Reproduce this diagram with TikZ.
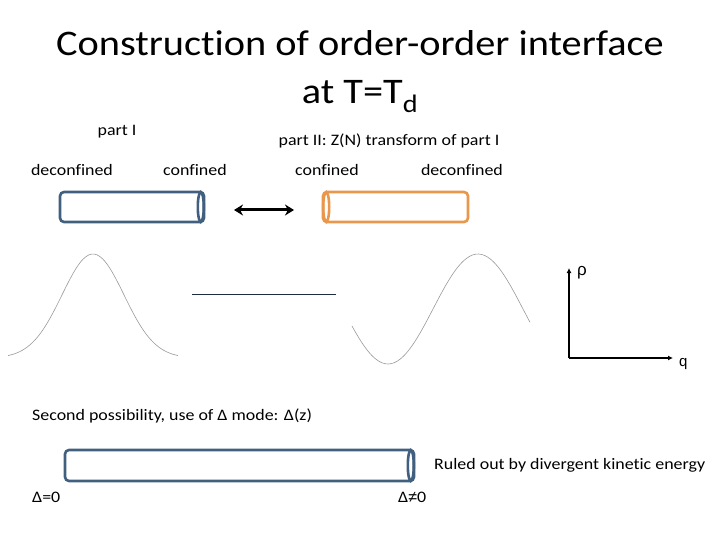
\documentclass[tikz,border=0pt]{standalone}
\usepackage{fontspec}
\setmainfont{Carlito}[FakeStretch=1.12, Ligatures=NoCommon]
\newfontfamily\arialfont{Liberation Sans}
\usepackage{tikz}
\usetikzlibrary{arrows.meta}
\definecolor{tubeblue}{HTML}{41607F}
\definecolor{tubeorange}{HTML}{E9974C}
\definecolor{flatnavy}{HTML}{1E2E40}
\tikzset{
  tube/.style={draw, rectangle, rounded corners=4pt, line width=2.6pt, minimum width=144pt, minimum height=30pt, inner sep=0pt},
  tubeend/.style={line width=2.6pt, x radius=3pt, y radius=15pt},
  lbl/.style={inner sep=0pt, font=\fontsize{16}{19}\selectfont},
  ttl/.style={inner sep=0pt, anchor=base, font=\fontsize{36}{44}\selectfont},
  curve/.style={gray!80, line width=0.6pt, smooth},
  axis/.style={line width=2.2pt, -{Latex[length=5pt,width=5pt]}}
}
\begin{document}
\begin{tikzpicture}[x=1pt, y=-1pt]
\useasboundingbox (0,0) rectangle (720,540);
% title
\node[ttl] (title) at (360,56) {Construction of order-order interface};
\node[ttl] (titletwo) at (360,104) {at T=T\textsubscript{d}};
% part labels
\node[lbl] (partone) at (117,132) {part I};
\node[lbl] (parttwo) at (389,141) {part II: Z(N) transform of part I};
\node[lbl] (deconfa) at (72,170) {deconfined};
\node[lbl] (confa) at (195,170) {confined};
\node[lbl] (confb) at (327,170) {confined};
\node[lbl] (deconfb) at (462,170) {deconfined};
% tubes
\node[tube, tubeblue] (tubeone) at (132,207) {};
\draw[tubeend, tubeblue] ([xshift=-4.5pt]tubeone.east) ellipse[];
\node[tube, tubeorange, minimum width=145pt] (tubetwo) at (395.5,207) {};
\draw[tubeend, tubeorange] ([xshift=4.5pt]tubetwo.west) ellipse[];
\coordinate (arrl) at (234,210);
\coordinate (arrr) at (294,210);
\draw[{Stealth[length=9pt,width=11pt]}-{Stealth[length=9pt,width=11pt]}, line width=3pt] (arrl) -- (arrr);
% profiles
\draw[curve] plot[domain=8:178, samples=60] (\x, {358-104*exp(-((\x-93)/31)^2/2)});
\coordinate (flatl) at (192,294);
\coordinate (flatr) at (336,294);
\draw[flatnavy, line width=0.8pt] (flatl) -- (flatr);
\draw[curve] plot[domain=352:530, samples=60] (\x, {309+55*cos(2*(\x-388))});
% axes
\coordinate (origin) at (569,358);
\coordinate (ptop) at (569,268);
\coordinate (qend) at (673,358);
\draw[axis] (origin) -- (ptop);
\draw[axis] (origin) -- (qend);
\node[font=\arialfont\fontsize{17}{19}\selectfont, anchor=west, inner sep=0pt] (rho) at (577,273) {ρ};
\node[font=\arialfont\fontsize{15}{17}\selectfont, anchor=west, inner sep=0pt] (qlbl) at (679,364) {q};
% second possibility
\node[lbl, anchor=west] (second) at (32,416) {Second possibility, use of Δ mode: Δ(z)};
\node[tube, tubeblue, minimum width=349pt, minimum height=31pt] (tubelong) at (239.5,465.5) {};
\draw[tubeend, tubeblue, y radius=15.5pt] ([xshift=-4.5pt]tubelong.east) ellipse[];
\node[lbl, anchor=west] (ruled) at (434,465) {Ruled out by divergent kinetic energy};
\node[lbl, anchor=west] (dzero) at (32,497) {Δ=0};
\node[lbl, anchor=west] (dnonzero) at (398,497) {Δ{\arialfont ≠}0};
\end{tikzpicture}
\end{document}
